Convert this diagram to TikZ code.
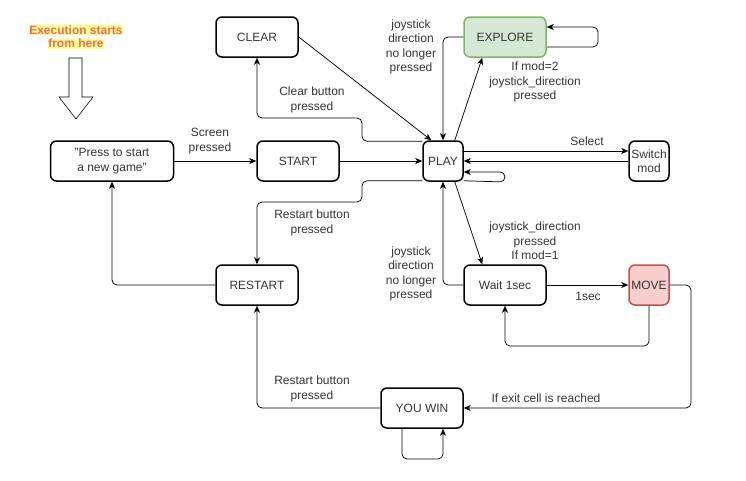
\documentclass[tikz,border=0pt]{standalone}
\usepackage{fontspec}
\setmainfont{Liberation Sans}
\usepackage{tikz}
\usetikzlibrary{arrows.meta}

\definecolor{txtgray}{HTML}{333333}
\definecolor{notered}{HTML}{EA6B66}
\definecolor{noteyellow}{HTML}{FFFF88}
\definecolor{explorefill}{HTML}{D5E8D4}
\definecolor{exploredraw}{HTML}{82B366}
\definecolor{movefill}{HTML}{F8CECC}
\definecolor{movedraw}{HTML}{B85450}

\begin{document}
\begin{tikzpicture}[x=1pt,y=-1pt,
    every node/.style={font=\fontsize{12}{14.3}\selectfont,text=txtgray,align=center},
    state/.style={draw=black,line width=1.5pt,rounded corners=6pt,
                  minimum width=82pt,minimum height=40pt,inner sep=1pt},
    narrow/.style={state,minimum width=40pt}]
\useasboundingbox (0,0) rectangle (746,480);

\node[font=\bfseries\fontsize{12}{14.3}\selectfont,text=notered,inner sep=0pt] (startnote) at (76,37)
    {\setlength{\fboxsep}{0.5pt}\colorbox{noteyellow}{Execution starts}\\[-1pt]
     \setlength{\fboxsep}{0.5pt}\colorbox{noteyellow}{from here}};
\draw[line width=0.6pt,draw=black,fill=white]
    (69,58) -- (82,58) -- (82,97) -- (93,97) -- (76,119) -- (59,97) -- (69,97) -- cycle;

\begin{scope}
    \node[state,minimum width=123pt] (press) at (112,161) {"Press to start\\a new game"};
    \node[state] (start) at (298,161) {START};
    \node[state] (clear) at (257,37) {CLEAR};
    \node[narrow] (play) at (443,161) {PLAY};
    \node[state,fill=explorefill,draw=exploredraw] (explore) at (505,37) {EXPLORE};
    \node[narrow] (switch) at (649,161) {Switch\\mod};
    \node[state] (wait) at (505,285) {Wait 1sec};
    \node[narrow,fill=movefill,draw=movedraw] (move) at (649,285) {MOVE};
    \node[state] (restart) at (257,285) {RESTART};
    \node[state] (youwin) at (422,408) {YOU WIN};
\end{scope}

\begin{scope}[>={Stealth[length=7pt,width=6pt,inset=2pt]},
              every path/.style={draw=black,line width=0.75pt,rounded corners=5pt}]
    \draw [->] (press) -- (start);
    \draw [->] (start) -- (play);
    \draw [->] (clear.east) -- ([xshift=9pt]play.north west);
    \draw [->] ([yshift=-1pt]play.north west) -| (362,118) -| (clear.south);
    \draw [->] ([yshift=1pt]play.south west) -| (362,202) -| (restart.north);
    \draw [->] (restart.west) -| (press.south);
    \draw [->] (youwin.west) -| (restart.south);
    \draw [->] ([xshift=-20pt]youwin.south) -- (402,459) -| ([xshift=21pt]youwin.south);
    \draw [->] (move.east) -- (691,285) |- (youwin.east);
    \draw [->] (move.south) -- (649,346) -| (wait.south);
    \draw [->] (wait) -- (move);
    \draw [->] ([xshift=-9pt]play.south east) -- ([xshift=19pt]wait.north west);
    \draw [->] (wait.west) -| (play.south);
    \draw [->] ([xshift=-9pt]play.north east) -- ([xshift=19pt]explore.south west);
    \draw [->] (explore.west) -| (play.north);
    \draw [->] ([yshift=-10pt]explore.east) -- (598,47) |- ([yshift=10pt]explore.east);
    \draw [->] ([yshift=10pt]play.east) -- ([yshift=10pt]switch.west);
    \draw [->] (switch) -- (play);
    \draw [->] ([yshift=1pt]play.south east) -- (505,182) |- ([yshift=-11pt]play.east);
\end{scope}

\node (lscreen) at (210,141) {Screen\\pressed};
\node (lclear) at (312,100) {Clear button\\pressed};
\node (lrestartup) at (312,223) {Restart button\\pressed};
\node (lrestartdown) at (312,389) {Restart button\\pressed};
\node (lreleaseup) at (411,47) {joystick\\direction\\no longer\\pressed};
\node (lreleasedown) at (411,274) {joystick\\direction\\no longer\\pressed};
\node (lexplore) at (535,82) {If mod=2\\joystick\_direction\\pressed};
\node (lselect) at (587,141) {Select};
\node (lwait) at (535,241) {joystick\_direction\\pressed\\If mod=1};
\node (lsec) at (588,296) {1sec};
\node (lexit) at (546,398) {If exit cell is reached};
\end{tikzpicture}
\end{document}
